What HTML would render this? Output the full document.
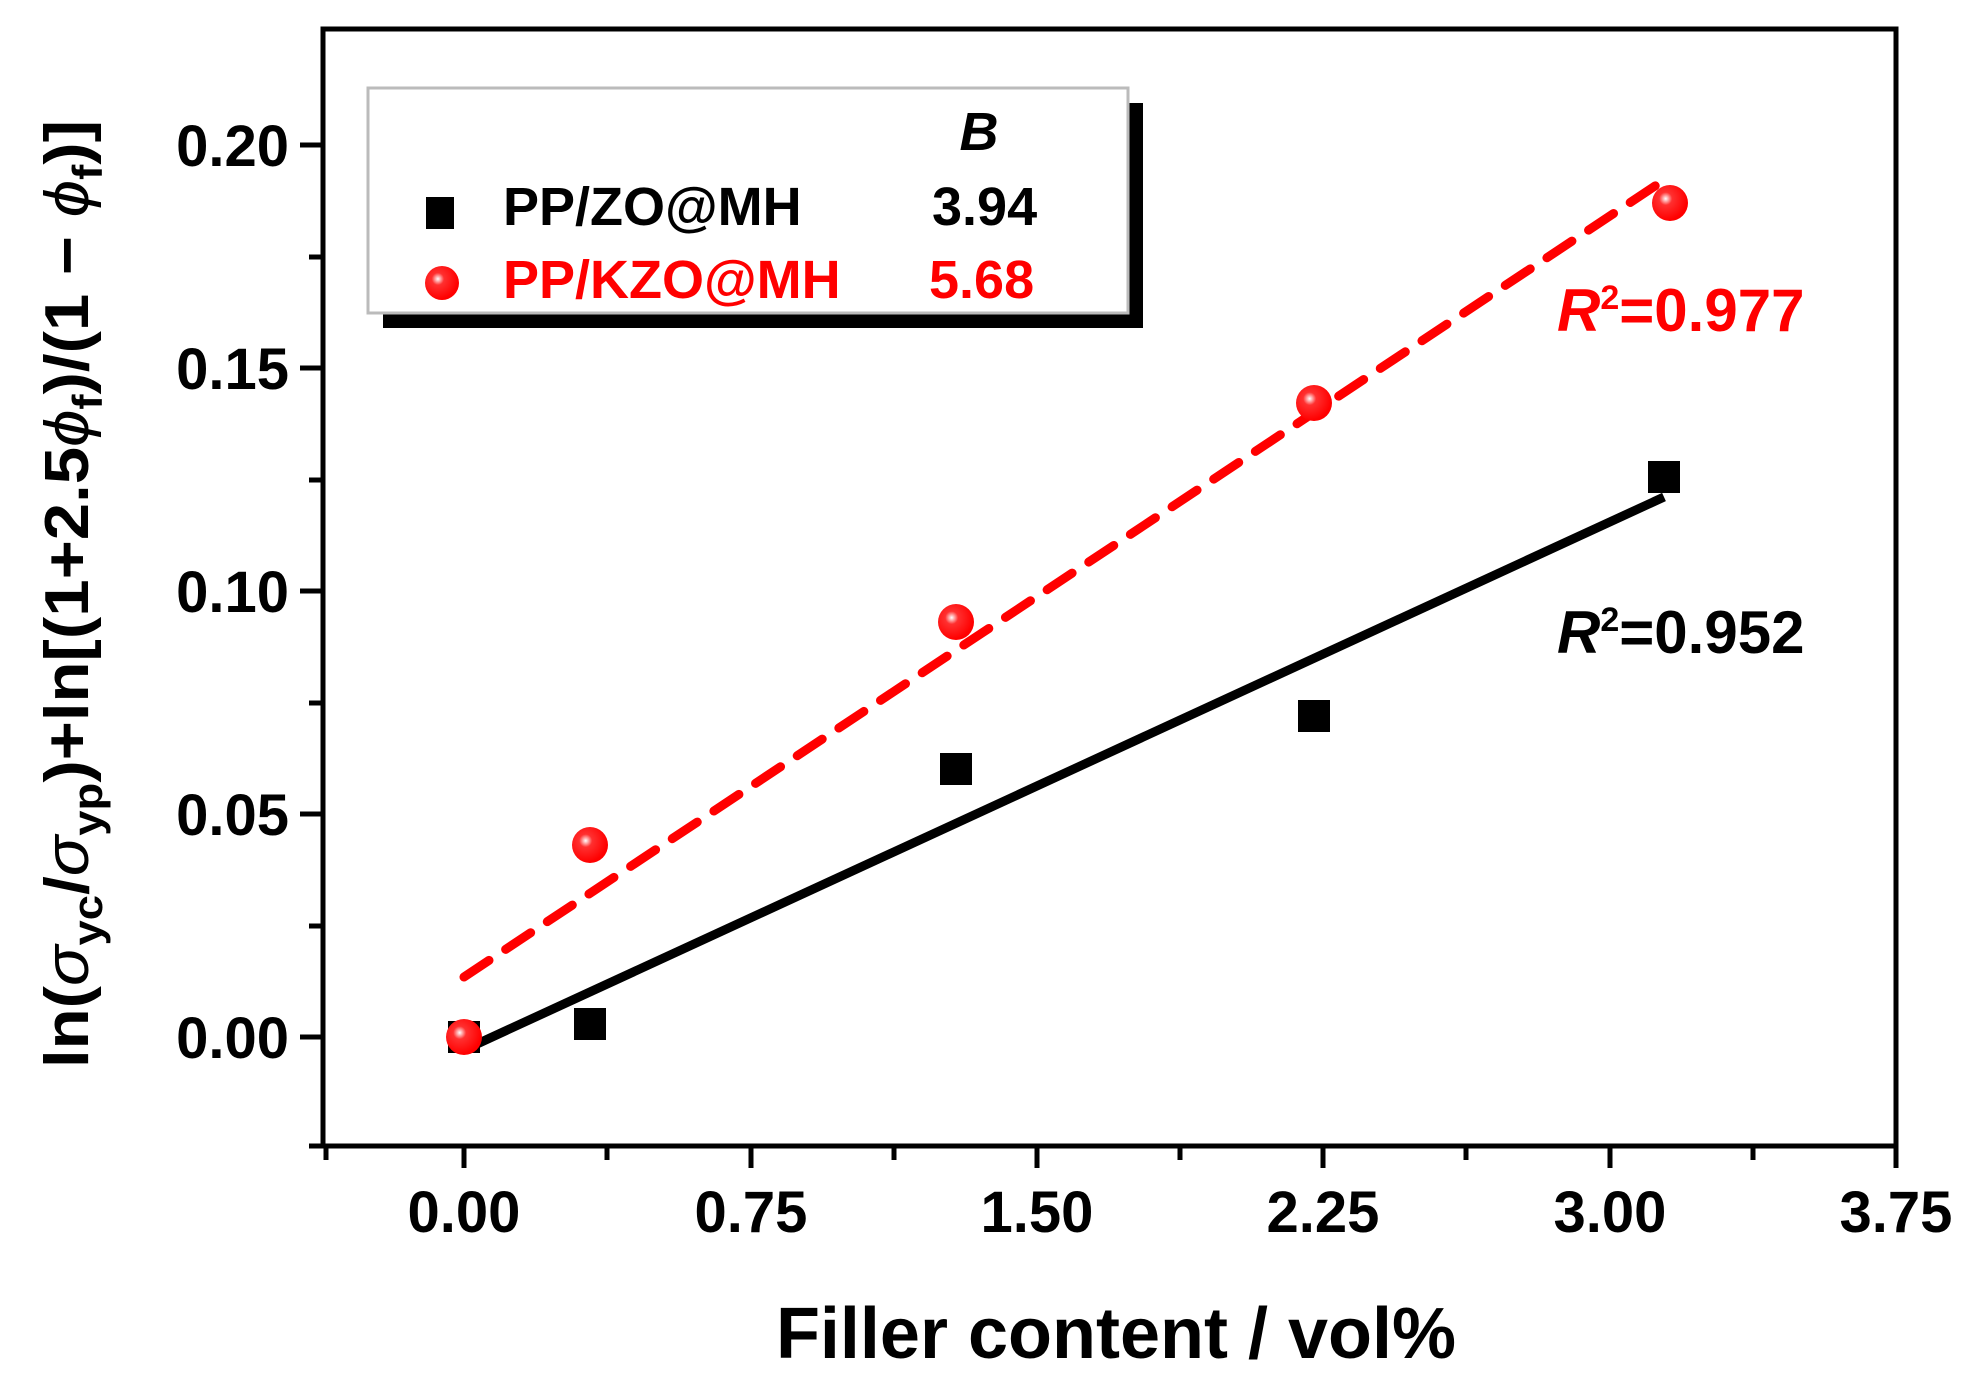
<!DOCTYPE html>
<html><head><meta charset="utf-8"><style>
html,body{margin:0;padding:0;background:#fff;}
svg{display:block;font-family:"Liberation Sans",Arial,sans-serif;font-weight:bold;}
</style></head><body>
<svg width="1971" height="1376" viewBox="0 0 1971 1376" xmlns="http://www.w3.org/2000/svg">
<rect width="1971" height="1376" fill="#fff"/>
<!-- frame -->
<rect x="323" y="29" width="1573" height="1117" fill="none" stroke="#000" stroke-width="5"/>
<!-- x ticks -->
<g stroke="#000" stroke-width="5">
<line x1="464" y1="1146" x2="464" y2="1168"/>
<line x1="751" y1="1146" x2="751" y2="1168"/>
<line x1="1037" y1="1146" x2="1037" y2="1168"/>
<line x1="1323" y1="1146" x2="1323" y2="1168"/>
<line x1="1610" y1="1146" x2="1610" y2="1168"/>
<line x1="1896" y1="1146" x2="1896" y2="1168"/>
<line x1="326" y1="1146" x2="326" y2="1160"/>
<line x1="607" y1="1146" x2="607" y2="1160"/>
<line x1="894" y1="1146" x2="894" y2="1160"/>
<line x1="1180" y1="1146" x2="1180" y2="1160"/>
<line x1="1466" y1="1146" x2="1466" y2="1160"/>
<line x1="1753" y1="1146" x2="1753" y2="1160"/>
<!-- y ticks -->
<line x1="300" y1="1037" x2="323" y2="1037"/>
<line x1="300" y1="814" x2="323" y2="814"/>
<line x1="300" y1="591" x2="323" y2="591"/>
<line x1="300" y1="368" x2="323" y2="368"/>
<line x1="300" y1="145" x2="323" y2="145"/>
<line x1="309" y1="1146" x2="323" y2="1146"/>
<line x1="309" y1="926" x2="323" y2="926"/>
<line x1="309" y1="703" x2="323" y2="703"/>
<line x1="309" y1="480" x2="323" y2="480"/>
<line x1="309" y1="257" x2="323" y2="257"/>
</g>
<!-- tick labels -->
<g font-size="58" fill="#000" text-anchor="end">
<text x="289" y="1058">0.00</text>
<text x="289" y="835">0.05</text>
<text x="289" y="612">0.10</text>
<text x="289" y="389">0.15</text>
<text x="289" y="166">0.20</text>
</g>
<g font-size="58" fill="#000" text-anchor="middle">
<text x="464" y="1232">0.00</text>
<text x="751" y="1232">0.75</text>
<text x="1037" y="1232">1.50</text>
<text x="1323" y="1232">2.25</text>
<text x="1610" y="1232">3.00</text>
<text x="1896" y="1232">3.75</text>
</g>
<!-- axis titles -->
<text x="1116" y="1358" font-size="72" text-anchor="middle" fill="#000">Filler content / vol%</text>
<text transform="translate(88,594) rotate(-90)" font-size="62" text-anchor="middle" fill="#000" textLength="948" lengthAdjust="spacingAndGlyphs">ln(<tspan font-style="italic" font-weight="normal">σ</tspan><tspan font-size="42" dy="14">yc</tspan><tspan dy="-14">/</tspan><tspan font-style="italic" font-weight="normal">σ</tspan><tspan font-size="42" dy="14">yp</tspan><tspan dy="-14">)+ln[(1+2.5</tspan><tspan font-style="italic" font-weight="normal">ϕ</tspan><tspan font-size="42" dy="14">f</tspan><tspan dy="-14">)/(1 − </tspan><tspan font-style="italic" font-weight="normal">ϕ</tspan><tspan font-size="42" dy="14">f</tspan><tspan dy="-14">)]</tspan></text>
<!-- fit lines -->
<line x1="464" y1="1050" x2="1664" y2="497" stroke="#000" stroke-width="9"/>
<line x1="464" y1="977" x2="1664" y2="180" stroke="#ff0000" stroke-width="9" stroke-dasharray="30,20" stroke-linecap="round"/>
<!-- black squares -->
<g fill="#000">
<rect x="448" y="1021" width="32" height="32"/>
<rect x="574" y="1008" width="32" height="32"/>
<rect x="940" y="753" width="32" height="32"/>
<rect x="1298" y="700" width="32" height="32"/>
<rect x="1648" y="461" width="32" height="32"/>
</g>
<!-- red circles -->
<g>
<defs><radialGradient id="g" cx="0.38" cy="0.38" r="0.6"><stop offset="0" stop-color="#fff"/><stop offset="0.3" stop-color="#ff3030"/><stop offset="1" stop-color="#ff0000"/></radialGradient></defs>
<circle cx="464" cy="1037" r="18" fill="url(#g)"/>
<circle cx="590" cy="845" r="18" fill="url(#g)"/>
<circle cx="956" cy="622" r="18" fill="url(#g)"/>
<circle cx="1314" cy="403" r="18" fill="url(#g)"/>
<circle cx="1670" cy="203" r="18" fill="url(#g)"/>
</g>
<!-- R2 labels -->
<text x="1557" y="331" font-size="60" fill="#ff0000"><tspan font-style="italic">R</tspan><tspan font-size="34" dy="-22">2</tspan><tspan dy="22">=0.977</tspan></text>
<text x="1557" y="653" font-size="60" fill="#000"><tspan font-style="italic">R</tspan><tspan font-size="34" dy="-22">2</tspan><tspan dy="22">=0.952</tspan></text>
<!-- legend -->
<rect x="383" y="103" width="760" height="225" fill="#000"/>
<rect x="368" y="88" width="760" height="225" fill="#fff" stroke="#bbb" stroke-width="3"/>
<text x="979" y="150" font-size="54" font-style="italic" text-anchor="middle" fill="#000">B</text>
<rect x="426" y="197" width="28" height="32" fill="#000"/>
<text x="503" y="225" font-size="54" fill="#000">PP/ZO@MH</text>
<text x="932" y="225" font-size="54" fill="#000">3.94</text>
<circle cx="442" cy="283" r="17" fill="url(#g)"/>
<text x="503" y="298" font-size="54" fill="#ff0000">PP/KZO@MH</text>
<text x="929" y="298" font-size="54" fill="#ff0000">5.68</text>
</svg>
</body></html>
